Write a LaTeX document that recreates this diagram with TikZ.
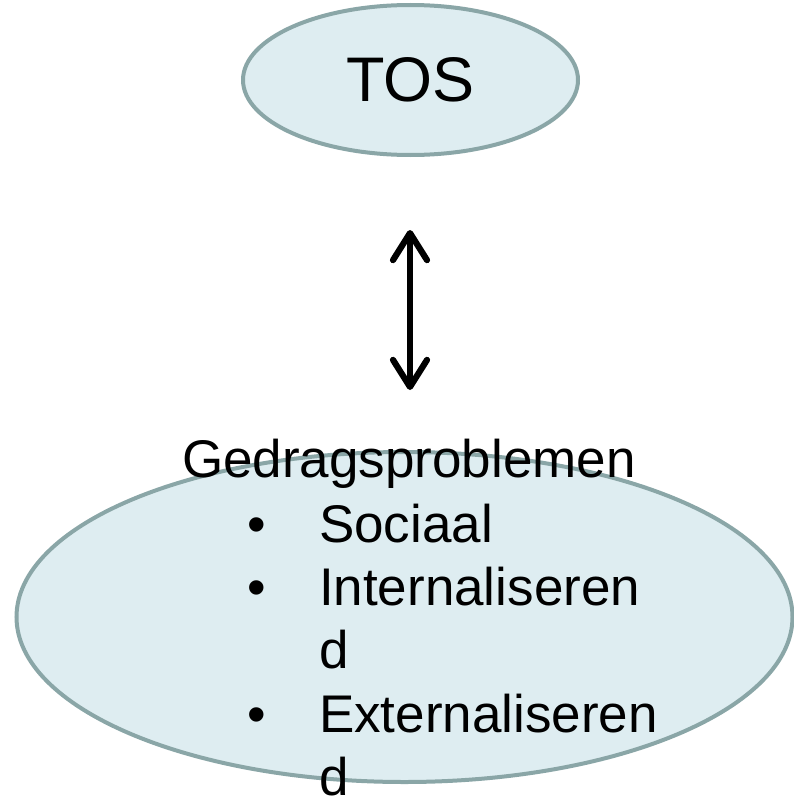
\documentclass[tikz,border=0pt]{standalone}
\usepackage{fontspec}
\setmainfont{Liberation Sans}
\usetikzlibrary{shapes.geometric,arrows.meta}
\definecolor{ellfill}{HTML}{DEEDF1}
\definecolor{elldraw}{HTML}{8AA6A7}
\tikzset{
  ellbox/.style={ellipse, draw=elldraw, fill=ellfill, line width=4pt, inner sep=0pt, outer sep=0pt},
  bigtxt/.style={font=\fontsize{53}{63.5}\selectfont, inner sep=0pt, outer sep=0pt},
  dblarrow/.style={line width=6.2pt, {Straight Barb[length=27pt,width=34pt,line cap=round,line join=round]}-{Straight Barb[length=27pt,width=34pt,line cap=round,line join=round]}}
}
\begin{document}
\begin{tikzpicture}[x=1pt,y=-1pt]
\useasboundingbox (0,0) rectangle (794,800);
\node[ellbox, minimum width=335pt, minimum height=150pt, font=\fontsize{63}{70}\selectfont] (tos) at (410.5,80) {TOS};
\node[ellbox, minimum width=776pt, minimum height=330pt] (gedrag) at (404.5,617) {};
\coordinate (atop) at (410,230);
\coordinate (abot) at (410,390);
\draw[dblarrow] (atop) -- (abot);
\node[bigtxt, anchor=base] (title) at (409,477) {Gedragsproblemen};
\node[bigtxt, anchor=base] (b1) at (257,542) {•};
\node[bigtxt, anchor=base west] (t1) at (319,542) {Sociaal};
\node[bigtxt, anchor=base] (b2) at (257,605) {•};
\node[bigtxt, anchor=base west] (t2) at (319,605) {Internaliseren};
\node[bigtxt, anchor=base west] (t2b) at (319,668) {d};
\node[bigtxt, anchor=base] (b3) at (257,732) {•};
\node[bigtxt, anchor=base west] (t3) at (319,732) {Externaliseren};
\node[bigtxt, anchor=base west] (t3b) at (319,795) {d};
\end{tikzpicture}
\end{document}
